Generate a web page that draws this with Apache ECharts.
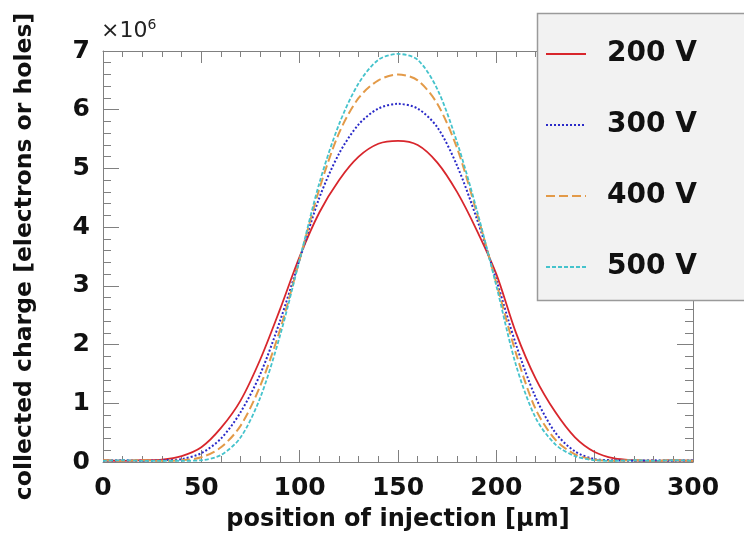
<!DOCTYPE html>
<html>
<head>
<meta charset="utf-8">
<script src="https://cdn.jsdelivr.net/npm/echarts@6/dist/echarts.min.js"></script>
<style>html,body{margin:0;padding:0;background:#fff;}#c{width:744px;height:542px;}</style>
</head>
<body>
<div id="c"></div>
<script>
// positions of injection [μm]
const positions = [0,10,20,30,40,50,60,70,80,90,100,110,120,130,140,150,160,170,180,190,200,210,220,230,240,250,260,270,280,290,300];
// collected charge, units of 1e6
const v200 = [0.03,0.02,0.03,0.04,0.10,0.25,0.58,1.05,1.75,2.60,3.50,4.25,4.80,5.20,5.42,5.47,5.40,5.10,4.60,3.95,3.20,2.20,1.42,0.85,0.42,0.17,0.06,0.03,0.02,0.03,0.02];
const v300 = [0.02,0.03,0.02,0.03,0.05,0.15,0.40,0.85,1.50,2.40,3.45,4.50,5.25,5.75,6.02,6.10,6.02,5.70,5.05,4.15,3.10,2.00,1.10,0.50,0.18,0.05,0.03,0.02,0.03,0.02,0.03];
const v400 = [0.03,0.02,0.03,0.02,0.03,0.08,0.25,0.62,1.30,2.25,3.45,4.65,5.60,6.20,6.50,6.60,6.50,6.10,5.35,4.25,3.05,1.85,0.90,0.38,0.13,0.04,0.02,0.03,0.02,0.03,0.02];
const v500 = [0.02,0.03,0.02,0.02,0.02,0.03,0.12,0.42,1.10,2.15,3.45,4.75,5.75,6.45,6.85,6.95,6.85,6.35,5.45,4.30,3.00,1.65,0.75,0.30,0.10,0.03,0.02,0.03,0.02,0.03,0.02];
const seriesNames = ['200 V','300 V','400 V','500 V'];
const xTicks = {min:0, max:300, interval:50};
const yTicks = {min:0, max:7, interval:1};

const FONT = 'DejaVu Sans';
const pair = arr => positions.map((x,i)=>[x,arr[i]]);
const axisGray = '#808080';

const chart = echarts.init(document.getElementById('c'), null, {renderer:'canvas'});
function mkSeries(name, data, color, type, width){
  return {name, type:'line', data:pair(data), showSymbol:false, symbol:'none', smooth:0.3,
    xAxisIndex:0, yAxisIndex:0,
    lineStyle:{color, type, width}, itemStyle:{color}, z:3};
}
const baseTickX = {show:true, inside:true, length:12, lineStyle:{color:axisGray}};
const minorX = {show:true, splitNumber:5, length:6, lineStyle:{color:axisGray}};
const baseTickY = {show:true, inside:true, length:16, lineStyle:{color:axisGray}};
const minorY = {show:true, splitNumber:5, length:8, lineStyle:{color:axisGray}};
const axLine = {show:true, onZero:false, lineStyle:{color:axisGray, width:1}};
chart.setOption({
  animation:false,
  backgroundColor:'#ffffff',
  grid:{left:103, right:51, top:51, bottom:80},
  xAxis:[{
    type:'value', min:xTicks.min, max:xTicks.max, interval:xTicks.interval, position:'bottom',
    axisLine:axLine,
    axisTick:baseTickX, minorTick:minorX, splitLine:{show:false},
    axisLabel:{fontFamily:FONT, fontWeight:'bold', fontSize:25, color:'#111', margin:14},
    name:'position of injection [\u03bcm]', nameLocation:'middle', nameGap:46,
    nameTextStyle:{fontFamily:FONT, fontWeight:'bold', fontSize:24, color:'#111', verticalAlign:'top'}
  },{
    type:'value', min:xTicks.min, max:xTicks.max, interval:xTicks.interval, position:'top',
    axisLine:axLine,
    axisTick:baseTickX, minorTick:minorX, splitLine:{show:false}, axisLabel:{show:false}
  }],
  yAxis:[{
    type:'value', min:yTicks.min, max:yTicks.max, interval:yTicks.interval, position:'left',
    axisLine:axLine,
    axisTick:baseTickY, minorTick:minorY, splitLine:{show:false},
    axisLabel:{fontFamily:FONT, fontWeight:'bold', fontSize:25, color:'#111', margin:13},
    name:'collected charge [electrons or holes]', nameLocation:'middle', nameGap:66, nameRotate:90,
    nameTextStyle:{fontFamily:FONT, fontWeight:'bold', fontSize:23.5, color:'#111'}
  },{
    type:'value', min:yTicks.min, max:yTicks.max, interval:yTicks.interval, position:'right',
    axisLine:axLine,
    axisTick:baseTickY, minorTick:minorY, splitLine:{show:false}, axisLabel:{show:false}
  }],
  legend:{
    show:true, orient:'vertical', left:540, top:35, itemWidth:40, itemHeight:12, itemGap:43,
    z:30, data:seriesNames, itemStyle:{opacity:0},
    textStyle:{fontFamily:FONT, fontWeight:'bold', fontSize:28, color:'#111', padding:[0,0,0,16]}
  },
  graphic:[
    {type:'rect', z:20, shape:{x:537.5, y:13.5, width:240, height:287}, style:{fill:'#f2f2f2', stroke:'#9a9a9a', lineWidth:1.5}},
    {type:'text', z:20, left:101, top:18, style:{text:'{a|\u00d710}{b|6}', rich:{
      a:{fontFamily:FONT, fontSize:22, fill:'#222', verticalAlign:'bottom'},
      b:{fontFamily:FONT, fontSize:14, fill:'#222', verticalAlign:'top', padding:[0,0,10,0]}
    }}}
  ],
  series:[
    mkSeries(seriesNames[0], v200, '#d8262c', 'solid', 1.8),
    mkSeries(seriesNames[1], v300, '#2a2ac8', 'dotted', 2),
    mkSeries(seriesNames[2], v400, '#e39a48', [9,4], 2),
    mkSeries(seriesNames[3], v500, '#45c3cc', [4,2], 1.8)
  ]
});
</script>
</body>
</html>
